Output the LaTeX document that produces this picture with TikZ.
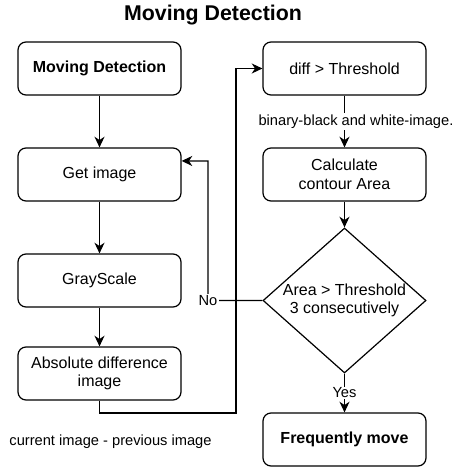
\documentclass[tikz,border=0pt]{standalone}
\usepackage{fontspec}
\setmainfont{Liberation Sans}
\usetikzlibrary{arrows.meta,shapes.geometric,calc}

\begin{document}
\begin{tikzpicture}[x=0.75pt,y=0.75pt,yscale=-1,xscale=1,
  box/.style={draw,rounded corners=6pt,line width=0.9pt,minimum width=122.25pt,minimum height=39.75pt,align=center,font=\fontsize{12}{14}\selectfont},
  decide/.style={draw,diamond,line width=0.9pt,minimum width=122.25pt,minimum height=108.75pt,inner sep=0pt,aspect=1.12},
  lbl/.style={font=\fontsize{11}{13}\selectfont,inner sep=1pt},
  arr/.style={line width=0.9pt,-{Stealth[length=8pt,width=7.5pt,inset=2.5pt]}}]
%set diagram frame 461 x 473
\useasboundingbox (0,0) rectangle (461,473);

%Title
\node (title) at (213,15) {\fontsize{16}{19}\selectfont\bfseries Moving Detection};

%Left column
\node [box] (start) at (99.5,68.5) {\bfseries Moving Detection};
\node [box] (getimg) at (99.5,174.5) {Get image};
\node [box] (gray) at (99.5,280.5) {GrayScale};
\node [box] (absdiff) at (99.5,373.5) {Absolute difference\\image};
\node [lbl] (curprev) at (110.5,442) {current image - previous image};

%Right column
\node [box] (diffth) at (344.5,68.5) {diff > Threshold};
\node [box] (contour) at (344.5,174.5) {Calculate\\contour Area};
\node [decide] (areath) at (344.5,300.5) {};
\node [align=center,font=\fontsize{12}{14}\selectfont] (areatxt) at (areath.center) {Area > Threshold\\3 consecutively};
\node [box] (freq) at (344.5,439.5) {\bfseries Frequently move};

%Connectors
\coordinate (noturn) at (208,161);
\coordinate (loopbot) at (236,413);
\draw [arr] (start) -- (getimg);
\draw [arr] (getimg) -- (gray);
\draw [arr] (gray) -- (absdiff);
\draw [arr] (absdiff.south) |- (loopbot) |- (diffth.west);
\draw [arr] (diffth) -- node [lbl,fill=white,xshift=8.6pt] {binary-black and white-image.} (contour);
\draw [arr] (contour) -- (areath);
\draw [arr] (areath.west) -| node [lbl,fill=white,pos=0.5] {No} (noturn) -- ($(getimg.north east)!0.25!(getimg.south east)$);
\draw [arr] (areath.south) -- node [lbl,fill=white] {Yes} (freq);

\end{tikzpicture}
\end{document}
